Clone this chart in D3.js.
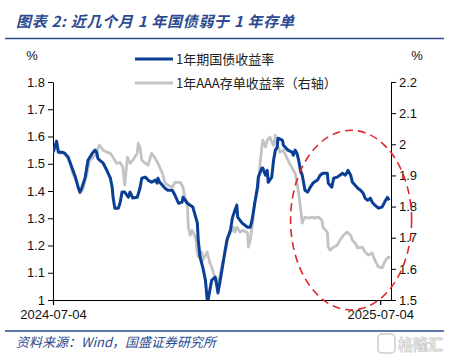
<!DOCTYPE html>
<html>
<head>
<meta charset="utf-8">
<script src="https://cdn.jsdelivr.net/npm/d3@7"></script>
<style>
  body { margin: 0; background: #fff; }
  svg { display: block; }
</style>
</head>
<body>
<script>
// 1年期国债收益率 (左轴, %)
const bond1y = [
  ["2024-07-04",1.542],["2024-07-08",1.583],["2024-07-10",1.542],["2024-07-14",1.542],["2024-07-17",1.539],
  ["2024-07-21",1.524],["2024-07-25",1.487],["2024-07-29",1.451],["2024-08-01",1.414],["2024-08-03",1.396],
  ["2024-08-05",1.410],["2024-08-09",1.451],["2024-08-12",1.513],["2024-08-17",1.539],["2024-08-20",1.550],
  ["2024-08-22",1.539],["2024-08-23",1.520],["2024-08-25",1.513],["2024-08-29",1.502],["2024-09-02",1.476],
  ["2024-09-06",1.447],["2024-09-08",1.414],["2024-09-09",1.377],["2024-09-11",1.337],["2024-09-15",1.337],
  ["2024-09-17",1.359],["2024-09-19",1.396],["2024-09-22",1.396],["2024-09-26",1.377],["2024-09-28",1.396],
  ["2024-10-01",1.374],["2024-10-06",1.377],["2024-10-09",1.410],["2024-10-11",1.447],["2024-10-15",1.451],
  ["2024-10-18",1.440],["2024-10-22",1.432],["2024-10-26",1.440],["2024-10-28",1.429],["2024-10-29",1.447],
  ["2024-10-31",1.432],["2024-11-03",1.421],["2024-11-06",1.410],["2024-11-09",1.403],["2024-11-14",1.403],
  ["2024-11-17",1.385],["2024-11-21",1.355],["2024-11-25",1.359],["2024-11-26",1.377],["2024-12-01",1.355],
  ["2024-12-04",1.348],["2024-12-07",1.341],["2024-12-12",1.282],["2024-12-13",1.220],["2024-12-15",1.158],
  ["2024-12-18",1.121],["2024-12-21",1.073],["2024-12-23",1.000],["2024-12-24",1.000],["2024-12-26",1.037],
  ["2024-12-28",1.073],["2025-01-01",1.084],["2025-01-03",1.048],["2025-01-04",1.026],["2025-01-06",1.062],
  ["2025-01-09",1.121],["2025-01-12",1.183],["2025-01-14",1.220],["2025-01-18",1.257],["2025-01-20",1.300],
  ["2025-01-23",1.330],["2025-01-25",1.348],["2025-01-26",1.304],["2025-01-31",1.282],["2025-02-06",1.267],
  ["2025-02-09",1.267],["2025-02-11",1.293],["2025-02-14",1.355],["2025-02-17",1.414],["2025-02-18",1.451],
  ["2025-02-22",1.484],["2025-02-23",1.484],["2025-02-26",1.458],["2025-02-28",1.476],["2025-03-01",1.432],
  ["2025-03-05",1.451],["2025-03-07",1.513],["2025-03-09",1.550],["2025-03-11",1.561],["2025-03-12",1.594],
  ["2025-03-17",1.586],["2025-03-18",1.568],["2025-03-20",1.561],["2025-03-23",1.550],["2025-03-28",1.542],
  ["2025-03-29",1.531],["2025-03-31",1.550],["2025-04-02",1.539],["2025-04-04",1.513],["2025-04-06",1.476],
  ["2025-04-08",1.458],["2025-04-09",1.440],["2025-04-11",1.403],["2025-04-14",1.396],["2025-04-17",1.414],
  ["2025-04-20",1.429],["2025-04-25",1.440],["2025-04-28",1.458],["2025-05-01",1.465],["2025-05-06",1.465],
  ["2025-05-07",1.429],["2025-05-09",1.421],["2025-05-11",1.414],["2025-05-13",1.447],["2025-05-17",1.451],
  ["2025-05-20",1.458],["2025-05-23",1.465],["2025-05-26",1.458],["2025-05-28",1.469],["2025-05-29",1.476],
  ["2025-06-01",1.458],["2025-06-03",1.432],["2025-06-06",1.421],["2025-06-09",1.410],["2025-06-12",1.403],
  ["2025-06-15",1.392],["2025-06-17",1.374],["2025-06-20",1.366],["2025-06-23",1.374],["2025-06-25",1.359],
  ["2025-06-28",1.348],["2025-07-02",1.337],["2025-07-06",1.341],["2025-07-10",1.366],["2025-07-12",1.377],
  ["2025-07-14",1.366]
];

// 1年AAA存单收益率 (右轴, %)
const ncd1y = [
  ["2024-07-04",1.975],["2024-07-08",1.991],["2024-07-12",1.971],["2024-07-15",1.975],["2024-07-20",1.958],
  ["2024-07-23",1.939],["2024-07-26",1.907],["2024-07-31",1.875],["2024-08-03",1.843],["2024-08-06",1.853],
  ["2024-08-11",1.907],["2024-08-14",1.949],["2024-08-18",1.958],["2024-08-22",1.971],["2024-08-23",1.987],
  ["2024-08-25",1.997],["2024-08-29",1.981],["2024-09-02",1.975],["2024-09-06",1.971],["2024-09-09",1.958],
  ["2024-09-13",1.939],["2024-09-17",1.942],["2024-09-20",1.926],["2024-09-22",1.869],["2024-09-25",1.958],
  ["2024-09-28",1.939],["2024-10-01",1.949],["2024-10-06",1.971],["2024-10-07",2.003],["2024-10-09",1.991],
  ["2024-10-11",1.949],["2024-10-15",1.939],["2024-10-18",1.933],["2024-10-22",1.971],["2024-10-26",1.955],
  ["2024-10-29",1.939],["2024-11-03",1.907],["2024-11-06",1.875],["2024-11-09",1.869],["2024-11-14",1.862],
  ["2024-11-17",1.878],["2024-11-23",1.878],["2024-11-26",1.862],["2024-11-28",1.830],["2024-12-01",1.798],
  ["2024-12-02",1.734],["2024-12-04",1.708],["2024-12-06",1.724],["2024-12-10",1.702],["2024-12-12",1.651],
  ["2024-12-13",1.638],["2024-12-17",1.654],["2024-12-18",1.628],["2024-12-23",1.654],["2024-12-26",1.619],
  ["2024-12-28",1.606],["2024-12-30",1.587],["2025-01-01",1.564],["2025-01-03",1.555],["2025-01-06",1.574],
  ["2025-01-09",1.619],["2025-01-12",1.651],["2025-01-14",1.676],["2025-01-15",1.702],["2025-01-20",1.724],
  ["2025-01-21",1.734],["2025-01-23",1.718],["2025-01-25",1.734],["2025-01-29",1.718],["2025-02-01",1.724],
  ["2025-02-06",1.715],["2025-02-07",1.670],["2025-02-09",1.692],["2025-02-11",1.734],["2025-02-12",1.756],
  ["2025-02-14",1.811],["2025-02-18",1.862],["2025-02-20",1.939],["2025-02-22",1.991],["2025-02-23",2.013],
  ["2025-02-26",1.991],["2025-02-28",2.013],["2025-03-03",2.023],["2025-03-05",2.007],["2025-03-07",1.997],
  ["2025-03-09",2.029],["2025-03-12",1.991],["2025-03-14",1.975],["2025-03-18",1.981],["2025-03-22",1.955],
  ["2025-03-26",1.933],["2025-03-29",1.917],["2025-03-31",1.907],["2025-04-02",1.878],["2025-04-04",1.843],
  ["2025-04-06",1.798],["2025-04-08",1.747],["2025-04-09",1.756],["2025-04-11",1.766],["2025-04-15",1.763],
  ["2025-04-19",1.766],["2025-04-22",1.763],["2025-04-26",1.766],["2025-04-30",1.756],["2025-05-01",1.734],
  ["2025-05-06",1.718],["2025-05-07",1.670],["2025-05-09",1.660],["2025-05-13",1.670],["2025-05-17",1.676],
  ["2025-05-20",1.692],["2025-05-24",1.708],["2025-05-28",1.718],["2025-06-01",1.708],["2025-06-03",1.692],
  ["2025-06-06",1.683],["2025-06-09",1.667],["2025-06-14",1.670],["2025-06-17",1.654],["2025-06-21",1.644],
  ["2025-06-25",1.651],["2025-06-28",1.628],["2025-07-02",1.606],["2025-07-06",1.603],["2025-07-10",1.628],
  ["2025-07-13",1.638],["2025-07-15",1.635]
];

const leftTicks = [1, 1.1, 1.2, 1.3, 1.4, 1.5, 1.6, 1.7, 1.8];
const rightTicks = [1.5, 1.6, 1.7, 1.8, 1.9, 2, 2.1, 2.2];
const xTickLabels = ["2024-07-04", "2025-07-04"];
const legendNames = ["1年期国债收益率", "1年AAA存单收益率（右轴）"];

const W = 450, H = 363;
const m = { left: 53, right: 391, top: 82, bottom: 300 };
const blue = "#0a3f95", gray = "#c3c3c3", navy = "#2b4a8f";
const parse = d3.timeParse("%Y-%m-%d");

const svg = d3.select("body").append("svg")
  .attr("width", W)
  .attr("height", H);

// title + rules
svg.append("text")
  .attr("x", 16).attr("y", 27)
  .attr("fill", navy)
  .style("font-family", "'Noto Sans CJK SC', sans-serif")
  .style("font-size", "15px")
  .style("font-weight", "bold")
  .style("font-style", "italic")
  .style("letter-spacing", "0.7px")
  .text("图表 2:  近几个月 1 年国债弱于 1 年存单");

svg.append("line")
  .attr("x1", 5).attr("x2", 444).attr("y1", 38.5).attr("y2", 38.5)
  .attr("stroke", navy).attr("stroke-width", 1.5);
svg.append("line")
  .attr("x1", 5).attr("x2", 444).attr("y1", 331).attr("y2", 331)
  .attr("stroke", navy).attr("stroke-width", 1.5);

svg.append("text")
  .attr("x", 16).attr("y", 347)
  .attr("fill", navy)
  .style("font-family", "'Noto Sans CJK SC', sans-serif")
  .style("font-size", "13px")
  .style("font-style", "italic")
  .text("资料来源：Wind，国盛证券研究所");

// watermark
let wm = svg.append("g").attr("opacity", 0.7);
wm.append("rect")
  .attr("x", 378).attr("y", 334).attr("width", 17).attr("height", 19).attr("rx", 4)
  .attr("fill", "none").attr("stroke", "#b8b8b8").attr("stroke-width", 1.5);
wm.append("text")
  .attr("x", 398).attr("y", 350)
  .attr("fill", "#f4f4f4").attr("stroke", "#b8b8b8").attr("stroke-width", 0.8)
  .style("font-family", "'Noto Sans CJK SC', sans-serif")
  .style("font-size", "15px")
  .style("font-weight", "bold")
  .text("格隆汇");

// scales
const x = d3.scaleTime()
  .domain([parse("2024-07-04"), parse("2025-07-16")])
  .range([m.left, m.right]);
const yL = d3.scaleLinear().domain([1, 1.8]).range([m.bottom, m.top]);
const yR = d3.scaleLinear().domain([1.5, 2.2]).range([m.bottom, m.top]);

svg.append("clipPath").attr("id", "plot")
  .append("rect")
  .attr("x", m.left).attr("y", m.top - 10)
  .attr("width", m.right - m.left).attr("height", m.bottom - m.top + 10);

const tickFont = g => g.selectAll("text")
  .style("font-family", "'Liberation Sans', Arial, sans-serif")
  .style("font-size", "13px")
  .attr("fill", "#111");

svg.append("g")
  .attr("transform", `translate(${m.left},0)`)
  .call(d3.axisLeft(yL).tickValues(leftTicks).tickSize(5).tickSizeOuter(0).tickPadding(3)
    .tickFormat(d3.format(".1~f")))
  .call(g => g.selectAll("path,line").attr("stroke", "#000"))
  .call(tickFont);

svg.append("g")
  .attr("transform", `translate(${m.right},0)`)
  .call(d3.axisRight(yR).tickValues(rightTicks).tickSize(5).tickSizeOuter(0).tickPadding(3)
    .tickFormat(d3.format(".1~f")))
  .call(g => g.selectAll("path,line").attr("stroke", "#000"))
  .call(tickFont);

svg.append("g")
  .attr("transform", `translate(0,${m.bottom})`)
  .call(d3.axisBottom(x).tickValues(xTickLabels.map(parse)).tickSize(5).tickSizeOuter(0).tickPadding(5)
    .tickFormat(d3.timeFormat("%Y-%m-%d")))
  .call(g => g.selectAll("path,line").attr("stroke", "#000").attr("stroke-width", 1.2))
  .call(tickFont);

["%", "%"].forEach((t, i) => {
  svg.append("text")
    .attr("x", i ? 417 : 32).attr("y", 60)
    .attr("text-anchor", "middle")
    .attr("fill", "#111")
    .style("font-family", "'Liberation Sans', Arial, sans-serif")
    .style("font-size", "13px")
    .text(t);
});

// lines
const lineL = d3.line().x(d => x(parse(d[0]))).y(d => yL(d[1]));
const lineR = d3.line().x(d => x(parse(d[0]))).y(d => yR(d[1]));

let plot = svg.append("g").attr("clip-path", "url(#plot)");
plot.append("path")
  .datum(ncd1y)
  .attr("fill", "none")
  .attr("stroke", gray)
  .attr("stroke-width", 2.8)
  .attr("stroke-linejoin", "round")
  .attr("d", lineR);
plot.append("path")
  .datum(bond1y)
  .attr("fill", "none")
  .attr("stroke", blue)
  .attr("stroke-width", 3)
  .attr("stroke-linejoin", "round")
  .attr("d", lineL);

// legend
let legend = svg.append("g");
legendNames.forEach((name, i) => {
  let ly = 59 + i * 24;
  legend.append("line")
    .attr("x1", 135).attr("x2", 173).attr("y1", ly).attr("y2", ly)
    .attr("stroke", i ? gray : blue).attr("stroke-width", 3);
  legend.append("text")
    .attr("x", 176).attr("y", ly)
    .attr("dy", "0.36em")
    .attr("fill", "#222")
    .style("font-family", "'Noto Sans CJK SC', sans-serif")
    .style("font-size", "13px")
    .text(name);
});

// red dashed ellipse around the recent months
const ex0 = x(parse("2025-03-26")), ex1 = x(parse("2025-08-08"));
const ey0 = yR(2.045), ey1 = yR(1.468);
svg.append("ellipse")
  .attr("cx", (ex0 + ex1) / 2).attr("cy", (ey0 + ey1) / 2)
  .attr("rx", (ex1 - ex0) / 2).attr("ry", (ey1 - ey0) / 2)
  .attr("fill", "none")
  .attr("stroke", "#e0262b")
  .attr("stroke-width", 1.6)
  .attr("stroke-dasharray", "8 5");
</script>
</body>
</html>
